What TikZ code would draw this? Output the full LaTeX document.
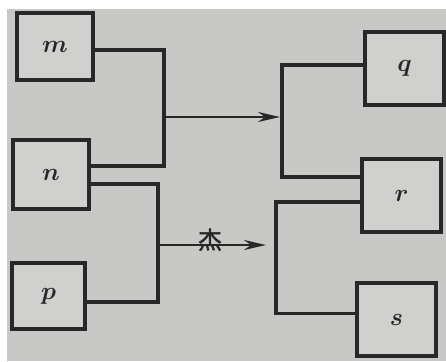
\documentclass[tikz,border=0pt]{standalone}
\usepackage{fontspec}
\newfontfamily\cjk[FakeBold=2]{Noto Sans CJK SC}
\usetikzlibrary{arrows.meta}
\definecolor{bgc}{RGB}{200,200,198}
\definecolor{ink}{RGB}{40,40,40}
\tikzset{
  box/.style={draw=ink, line width=3.4pt, fill=bgc!85!white, minimum width=#1, inner sep=0pt,
    font=\fontsize{24}{24}\selectfont\boldmath, text=ink},
  wire/.style={draw=ink, line width=3.2pt},
  arr/.style={draw=ink, line width=2.6pt, -{Stealth[length=22pt,width=10pt]}}
}
\begin{document}
\begin{tikzpicture}[x=1pt,y=-1pt]
\useasboundingbox (0,0) rectangle (446,361);
\fill[white] (0,0) rectangle (446,361);
\fill[bgc] (7,9) rectangle (446,361);
% left boxes
\node[box=76pt, minimum height=67pt] (m) at (55,46.5) {$m$};
\node[box=76pt, minimum height=69pt] (n) at (51,174.5) {$n$};
\node[box=73pt, minimum height=66pt] (p) at (48.5,296) {$p$};
% right boxes
\node[box=79pt, minimum height=73pt] (q) at (404.5,68.5) {$q$};
\node[box=79pt, minimum height=73pt] (r) at (401.5,195.5) {$r$};
\node[box=79pt, minimum height=73pt] (s) at (396.5,319.5) {$s$};
% bracket coordinates
\coordinate (b1) at (164,117);
\coordinate (b2) at (158,245);
\coordinate (c1) at (282,117);
\coordinate (c2) at (276,245);
\coordinate (a1) at (280,117);
\coordinate (a2) at (266,245);
% left brackets
\draw[wire] ([yshift=-3.5pt]m.east) -| (b1);
\draw[wire] ([yshift=8.5pt]n.east) -| (b1);
\draw[wire] ([yshift=-9.5pt]n.east) -| (b2);
\draw[wire] ([yshift=-6pt]p.east) -| (b2);
% right brackets
\draw[wire] ([yshift=3.5pt]q.west) -| (c1);
\draw[wire] ([yshift=18.5pt]r.west) -| (c1);
\draw[wire] ([yshift=-6.5pt]r.west) -| (c2);
\draw[wire] ([yshift=6pt]s.west) -| (c2);
% arrows
\draw[arr] (b1) -- (a1);
\draw[arr] (b2) -- (a2);
\node[anchor=south, inner sep=0pt, font=\cjk\fontsize{24}{24}\selectfont, text=ink] (lbl) at (210,251) {杰};
\end{tikzpicture}
\end{document}
